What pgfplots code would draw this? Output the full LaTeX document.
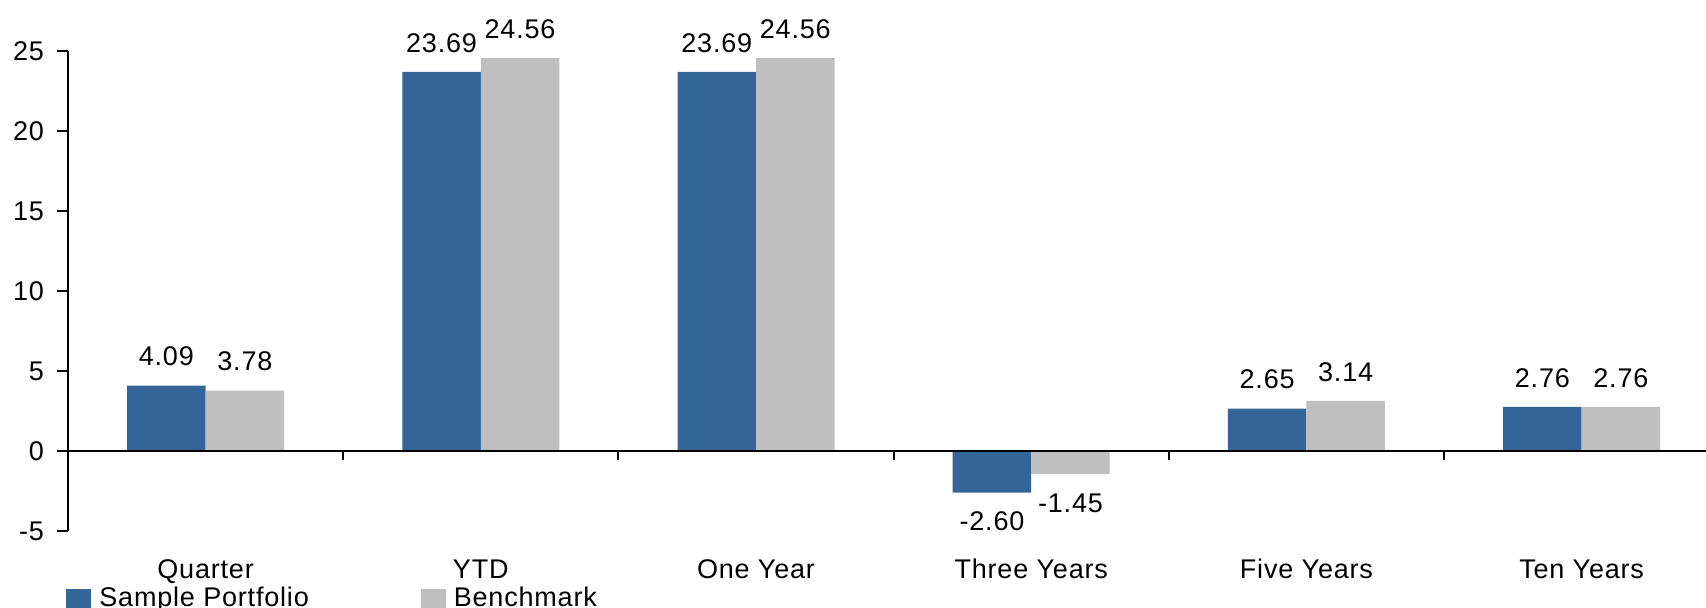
\documentclass[border=0pt]{standalone}
\usepackage{fontspec}
\setmainfont{Liberation Sans}[LetterSpace=3]
\usepackage{pgfplots}
\pgfplotsset{compat=1.18}
\definecolor{pblue}{RGB}{52,101,152}
\definecolor{pgray}{RGB}{191,191,191}
\newcommand{\cf}{\fontsize{13.5pt}{15pt}\selectfont}
\begin{document}
\begin{tikzpicture}
\useasboundingbox (0,0) rectangle (853pt,304pt);
\clip (0,0) rectangle (853pt,304pt);
\begin{axis}[
  at={(34pt,38.5pt)}, anchor=south west,
  scale only axis, width=819pt, height=240pt,
  xmin=-0.5, xmax=5.452, ymin=-5, ymax=25,
  ybar=0pt, bar width=39.25pt,
  axis lines*=left,
  x axis line style={draw=none},
  y axis line style={line width=1.1pt, black},
  xtick={0,1,2,3,4,5},
  xticklabels={Quarter,YTD,One Year,Three Years,Five Years,Ten Years},
  major x tick style={draw=none},
  ytick={-5,0,5,10,15,20,25},
  tick align=outside,
  major y tick style={line width=1.1pt, black},
  major tick length=5.5pt,
  /pgf/number format/assume math mode=true,
  tick label style={font=\cf},
  xticklabel style={anchor=base, yshift=-18.5pt},
  yticklabel style={xshift=-3pt},
  nodes near coords,
  nodes near coords style={font=\cf, inner ysep=9.5pt, /pgf/number format/.cd, fixed, fixed zerofill, precision=2, assume math mode=true},
  legend style={at={(0,0)}, anchor=north west, yshift=-24pt, xshift=-4pt, draw=none, fill=none, font=\cf,
    legend columns=2, /tikz/every even column/.append style={column sep=54pt},
    /tikz/every odd column/.append style={column sep=2pt}},
  legend image code/.code={\fill[#1] (0pt,-5pt) rectangle (12.5pt,5pt);},
  legend cell align=left,
]
\addplot[fill=pblue, draw=none] coordinates {(0,4.09) (1,23.69) (2,23.69) (3,-2.60) (4,2.65) (5,2.76)};
\addplot[fill=pgray, draw=none] coordinates {(0,3.78) (1,24.56) (2,24.56) (3,-1.45) (4,3.14) (5,2.76)};
\legend{Sample Portfolio, Benchmark}
\draw[line width=1.1pt, black] (axis cs:-0.5,0) -- (axis cs:5.452,0);
\pgfplotsinvokeforeach{0.5,1.5,2.5,3.5,4.5}{\draw[line width=1pt, black] (axis cs:#1,0) -- ++(0pt,-4.5pt);}
\end{axis}
\end{tikzpicture}
\end{document}
